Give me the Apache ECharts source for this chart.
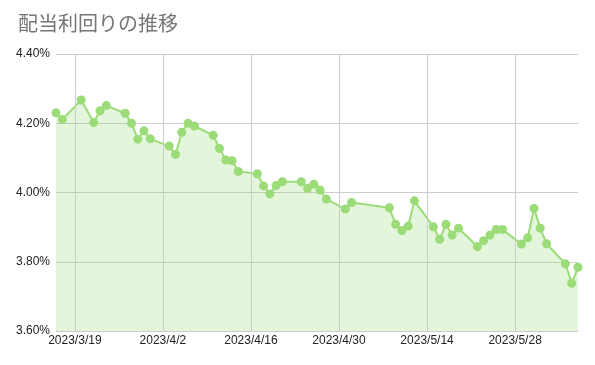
<!DOCTYPE html>
<html><head><meta charset="utf-8">
<script src="https://cdn.jsdelivr.net/npm/echarts@6/dist/echarts.min.js"></script>
<style>html,body{margin:0;padding:0;background:#fff}#c{width:595px;height:365px}</style>
</head><body><div id="c"></div>
<script>
var titleText = '配当利回りの推移';
var dates = ['2023-03-16','2023-03-17','2023-03-20','2023-03-22','2023-03-23','2023-03-24',
 '2023-03-27','2023-03-28','2023-03-29','2023-03-30','2023-03-31',
 '2023-04-03','2023-04-04','2023-04-05','2023-04-06','2023-04-07',
 '2023-04-10','2023-04-11','2023-04-12','2023-04-13','2023-04-14',
 '2023-04-17','2023-04-18','2023-04-19','2023-04-20','2023-04-21',
 '2023-04-24','2023-04-25','2023-04-26','2023-04-27','2023-04-28',
 '2023-05-01','2023-05-02',
 '2023-05-08','2023-05-09','2023-05-10','2023-05-11','2023-05-12',
 '2023-05-15','2023-05-16','2023-05-17','2023-05-18','2023-05-19',
 '2023-05-22','2023-05-23','2023-05-24','2023-05-25','2023-05-26',
 '2023-05-29','2023-05-30','2023-05-31','2023-06-01','2023-06-02',
 '2023-06-05','2023-06-06','2023-06-07'];
var yields = [4.230,4.211,4.267,4.202,4.236,4.251,
 4.229,4.200,4.154,4.178,4.155,
 4.134,4.110,4.174,4.200,4.192,
 4.165,4.127,4.094,4.092,4.061,
 4.054,4.019,3.996,4.020,4.031,
 4.031,4.012,4.024,4.007,3.981,
 3.952,3.971,
 3.956,3.908,3.890,3.903,3.976,
 3.901,3.865,3.908,3.877,3.897,
 3.844,3.861,3.877,3.893,3.893,
 3.851,3.869,3.954,3.897,3.852,
 3.794,3.738,3.784];
var xTickLabels = ['2023/3/19','2023/4/2','2023/4/16','2023/4/30','2023/5/14','2023/5/28'];
var yTicks = [3.6, 3.8, 4.0, 4.2, 4.4];

function dayNum(s){ var p = s.split(/[-\/]/).map(Number); return Date.UTC(p[0], p[1]-1, p[2]) / 86400000; }
var base = dayNum(dates[0]);
var seriesData = dates.map(function(d,i){ return [dayNum(d)-base, yields[i]]; });
var tickPos = xTickLabels.map(function(t){ return dayNum(t)-base; });
var labelMap = {};
tickPos.forEach(function(p,i){ labelMap[p] = xTickLabels[i]; });

var chart = echarts.init(document.getElementById('c'), null, {renderer:'canvas'});
chart.setOption({
  animation:false,
  title:{text:titleText,left:13,top:8,textStyle:{fontFamily:'Noto Sans CJK JP',fontSize:20,fontWeight:'normal',color:'#757575'}},
  grid:{left:56,right:17,top:54,bottom:34,containLabel:false},
  xAxis:{type:'value',min:0,max:seriesData[seriesData.length-1][0],
    axisLine:{show:false},axisTick:{show:false},splitLine:{show:false},
    axisLabel:{customValues:tickPos,formatter:function(v){return labelMap[v]||'';},fontFamily:'Liberation Sans, Arial',fontSize:12,color:'#222',margin:4,showMinLabel:true,showMaxLabel:true}},
  yAxis:{type:'value',min:yTicks[0],max:yTicks[yTicks.length-1],interval:0.2,
    axisLine:{show:false},axisTick:{show:false},
    splitLine:{lineStyle:{color:'#cccccc',width:1}},
    axisLabel:{formatter:function(v){return v.toFixed(2)+'%';},fontFamily:'Liberation Sans, Arial',fontSize:12,color:'#222',margin:6}},
  series:[{type:'line',data:seriesData,symbol:'circle',symbolSize:9,showSymbol:true,
    lineStyle:{color:'#9bdc79',width:2},
    itemStyle:{color:'#9bdc79'},
    areaStyle:{color:'#9bdc79',opacity:0.28,origin:'start'},
    markLine:{silent:true,symbol:['none','none'],label:{show:false},
      lineStyle:{color:'#cccccc',type:'solid',width:1},
      data:tickPos.map(function(p){return {xAxis:p};})}
  }]
});
</script></body></html>
